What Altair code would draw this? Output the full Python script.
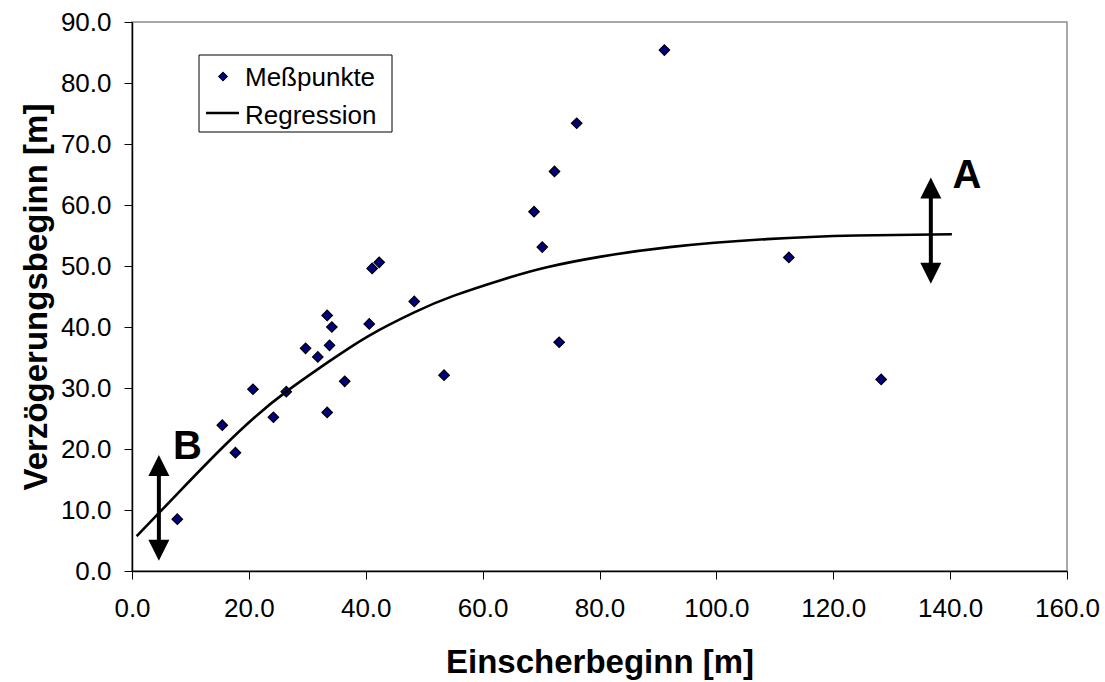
import altair as alt
import pandas as pd

# Measured points (Meßpunkte)
pts_x = [7.75, 15.45, 17.7, 20.7, 24.2, 26.4, 29.7, 31.8, 33.4, 34.2, 33.8, 33.4, 36.4,
         40.6, 48.3, 53.4, 73.1, 41.1, 42.3, 68.8, 70.2, 72.3, 76.1, 91.1, 112.4, 128.2]
pts_y = [8.5, 23.9, 19.4, 29.8, 25.2, 29.4, 36.5, 35.1, 41.9, 40.0, 37.0, 26.0, 31.1,
         40.5, 44.2, 32.1, 37.5, 49.6, 50.6, 58.9, 53.1, 65.5, 73.4, 85.4, 51.4, 31.4]

# Regression curve
reg_x = [0.8, 8.0, 15.45, 21.0, 26.4, 33.8, 40.6, 48.3, 55.0, 63.5, 71.0, 80.0, 92.0, 108.6, 124.0, 140.3]
reg_y = [5.7, 12.9, 20.2, 25.2, 29.4, 34.4, 38.6, 42.4, 45.1, 47.8, 49.8, 51.5, 53.1, 54.4, 55.0, 55.2]

# Arrow annotations A and B
arrow_names = ["A", "B"]
arrow_x = [136.7, 4.6]
arrow_top = [62.0, 16.5]
arrow_bottom = [49.5, 4.0]
head_up_y = [62.8, 17.3]
head_down_y = [48.8, 3.4]
label_x = [140.4, 7.0]
label_y = [62.8, 18.35]

x_ticks = [0, 20, 40, 60, 80, 100, 120, 140, 160]
y_ticks = [0, 10, 20, 30, 40, 50, 60, 70, 80, 90]

FONT = "Liberation Sans"

pts = pd.DataFrame({"x": pts_x, "y": pts_y})
reg = pd.DataFrame({"x": reg_x, "y": reg_y})
arr = pd.DataFrame({"x": arrow_x, "y": arrow_top, "y2": arrow_bottom, "name": arrow_names})
up = pd.DataFrame({"x": arrow_x, "y": head_up_y})
down = pd.DataFrame({"x": arrow_x, "y": head_down_y})
lab = pd.DataFrame({"x": label_x, "y": label_y, "name": arrow_names})

xs = alt.Scale(domain=[0, 160], nice=False, zero=False)
ys = alt.Scale(domain=[0, 90], nice=False, zero=False)

xaxis = alt.Axis(values=x_ticks, format=".1f", grid=False, labelFlush=False, labelOverlap=False,
                 tickSize=8, tickColor="black", domainColor="black", domainWidth=1.5,
                 labelFont=FONT, labelFontSize=26, labelColor="black", labelPadding=16,
                 title="Einscherbeginn [m]", titleFont=FONT, titleFontSize=33, titleFontWeight="bold",
                 titleColor="black", titleY=101, titleBaseline="alphabetic")
yaxis = alt.Axis(values=y_ticks, format=".1f", grid=False, labelFlush=False, labelOverlap=False,
                 tickSize=8, tickColor="black", domainColor="black", domainWidth=1.5,
                 labelFont=FONT, labelFontSize=26, labelColor="black", labelPadding=13,
                 title="Verzögerungsbeginn [m]", titleFont=FONT, titleFontSize=33, titleFontWeight="bold",
                 titleColor="black", titleX=-86, titleBaseline="alphabetic")

X = alt.X("x:Q", scale=xs, axis=xaxis)
Y = alt.Y("y:Q", scale=ys, axis=yaxis)

points = alt.Chart(pts).mark_point(shape="diamond", filled=True, fill="#000080", stroke="black",
                                   strokeWidth=1.2, size=110, opacity=1).encode(x=X, y=Y)

line = alt.Chart(reg).mark_line(color="black", strokeWidth=2.6, interpolate="natural").encode(x=X, y=Y)

shafts = alt.Chart(arr).mark_rule(color="black", strokeWidth=4).encode(x=X, y=Y, y2=alt.Y2("y2:Q"))

heads_up = alt.Chart(up).mark_point(shape="M-1,1L0,-1L1,1Z", filled=True, fill="black", size=441,
                                    opacity=1, strokeWidth=0).encode(x=X, y=Y)
heads_down = alt.Chart(down).mark_point(shape="M-1,-1L0,1L1,-1Z", filled=True, fill="black", size=441,
                                        opacity=1, strokeWidth=0).encode(x=X, y=Y)

labels = alt.Chart(lab).mark_text(font=FONT, fontSize=40, fontWeight="bold", color="black",
                                  align="left", baseline="alphabetic").encode(x=X, y=Y, text="name:N")

# Legend box (drawn manually, pixel positions inside plot area)
leg_box = alt.Chart(pd.DataFrame({"a": [0]})).mark_rect(fill="white", stroke="black", strokeWidth=1).encode(
    x=alt.value(67), x2=alt.value(260), y=alt.value(33), y2=alt.value(110))
leg_sym = alt.Chart(pd.DataFrame({"a": [0]})).mark_point(shape="diamond", filled=True, fill="#000080",
                                                         stroke="black", strokeWidth=1, size=85, opacity=1).encode(
    x=alt.value(91), y=alt.value(54.5))
leg_line = alt.Chart(pd.DataFrame({"a": [0]})).mark_rule(color="black", strokeWidth=2.6).encode(
    x=alt.value(74), x2=alt.value(107), y=alt.value(91))
leg_t1 = alt.Chart(pd.DataFrame({"t": ["Meßpunkte"]})).mark_text(
    font=FONT, fontSize=26, color="black", align="left", baseline="alphabetic").encode(
    x=alt.value(113), y=alt.value(63.5), text="t:N")
leg_t2 = alt.Chart(pd.DataFrame({"t": ["Regression"]})).mark_text(
    font=FONT, fontSize=26, color="black", align="left", baseline="alphabetic").encode(
    x=alt.value(113), y=alt.value(101.5), text="t:N")

chart = alt.layer(points, line, shafts, heads_up, heads_down, labels,
                  leg_box, leg_sym, leg_line, leg_t1, leg_t2).properties(
    width=935, height=549,
    autosize=alt.AutoSizeParams(type="none"),
    padding={"left": 132, "top": 22, "right": 38, "bottom": 111},
    background="white",
).configure_view(stroke="#8c8c8c", strokeWidth=1.5)

chart.save("out.html", embed_options={"renderer": "svg", "actions": False})
